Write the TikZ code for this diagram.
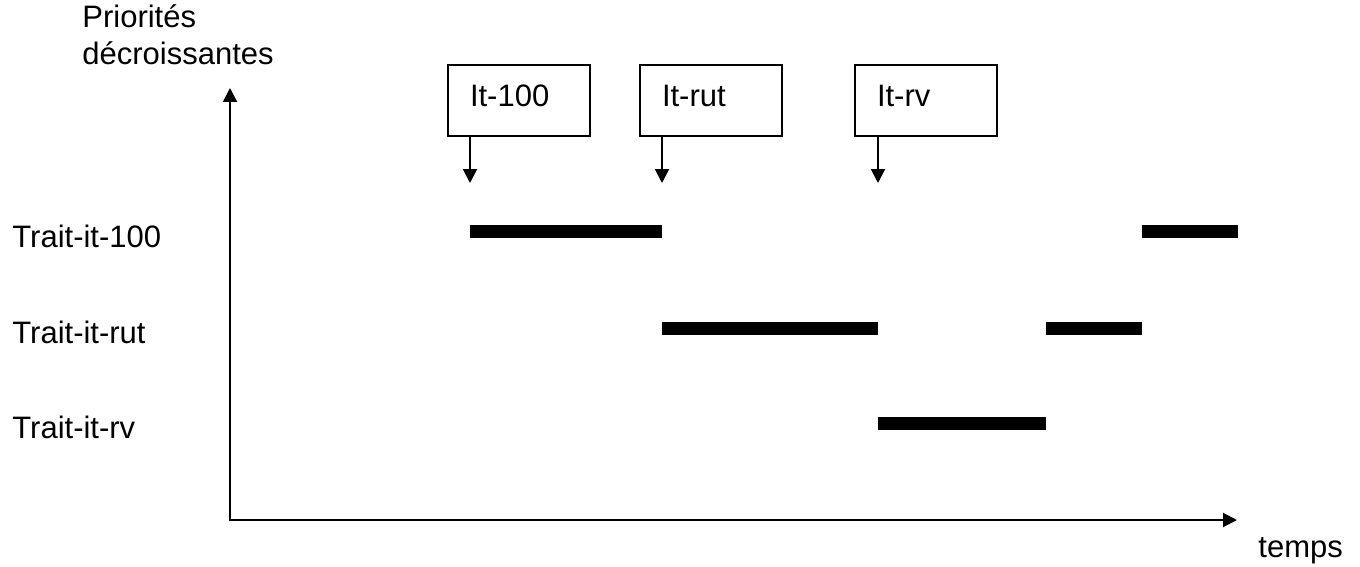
\documentclass[tikz,border=0pt]{standalone}
\usepackage{fontspec}
\setmainfont{Liberation Sans}
\usetikzlibrary{arrows.meta}
\tikzset{
itbox/.style={draw,line width=1pt,anchor=north west,minimum width=71pt,minimum height=35.5pt,
  text width=49pt,align=left,inner xsep=11pt,inner ysep=9.5pt,text height=11pt,text depth=5pt},
lbl/.style={anchor=base west,inner sep=0pt},
bar/.style={line width=6.5pt}
}
\begin{document}
\begin{tikzpicture}[x=0.5pt,y=-0.5pt,font=\fontsize{15.5}{18.5}\selectfont]
\useasboundingbox (0,0) rectangle (1360,567);
% axes
\coordinate (O) at (230,520);
\coordinate (ytip) at (230,88);
\coordinate (xtip) at (1237,520);
\draw[<->,>={Triangle[length=7pt,width=7pt]},line width=1pt](ytip)--(O)--(xtip);
\node[lbl] (prio) at (82,28){Priorités};
\node[lbl] (decr) at (82,65){décroissantes};
\node[lbl] (temps) at (1258,557){temps};
% rows
\node[lbl] (t100) at (12,247){Trait-it-100};
\node[lbl] (trut) at (12,343){Trait-it-rut};
\node[lbl] (trv) at (12,438){Trait-it-rv};
% interrupts
\node[itbox] (b100) at (447,64){It-100};
\node[itbox] (brut) at (639,64){It-rut};
\node[itbox] (brv) at (854,64){It-rv};
\coordinate (a100) at (470,183);
\coordinate (arut) at (662,183);
\coordinate (arv) at (878,183);
\draw[->,>={Triangle[length=7pt,width=7pt]},line width=1pt](b100.south -| a100)--(a100);
\draw[->,>={Triangle[length=7pt,width=7pt]},line width=1pt](brut.south -| arut)--(arut);
\draw[->,>={Triangle[length=7pt,width=7pt]},line width=1pt](brv.south -| arv)--(arv);
% executions
\draw[bar](470,231.5)--(662,231.5);
\draw[bar](662,328)--(878,328);
\draw[bar](878,423.5)--(1046,423.5);
\draw[bar](1046,328)--(1142,328);
\draw[bar](1142,231.5)--(1238,231.5);
\end{tikzpicture}
\end{document}
